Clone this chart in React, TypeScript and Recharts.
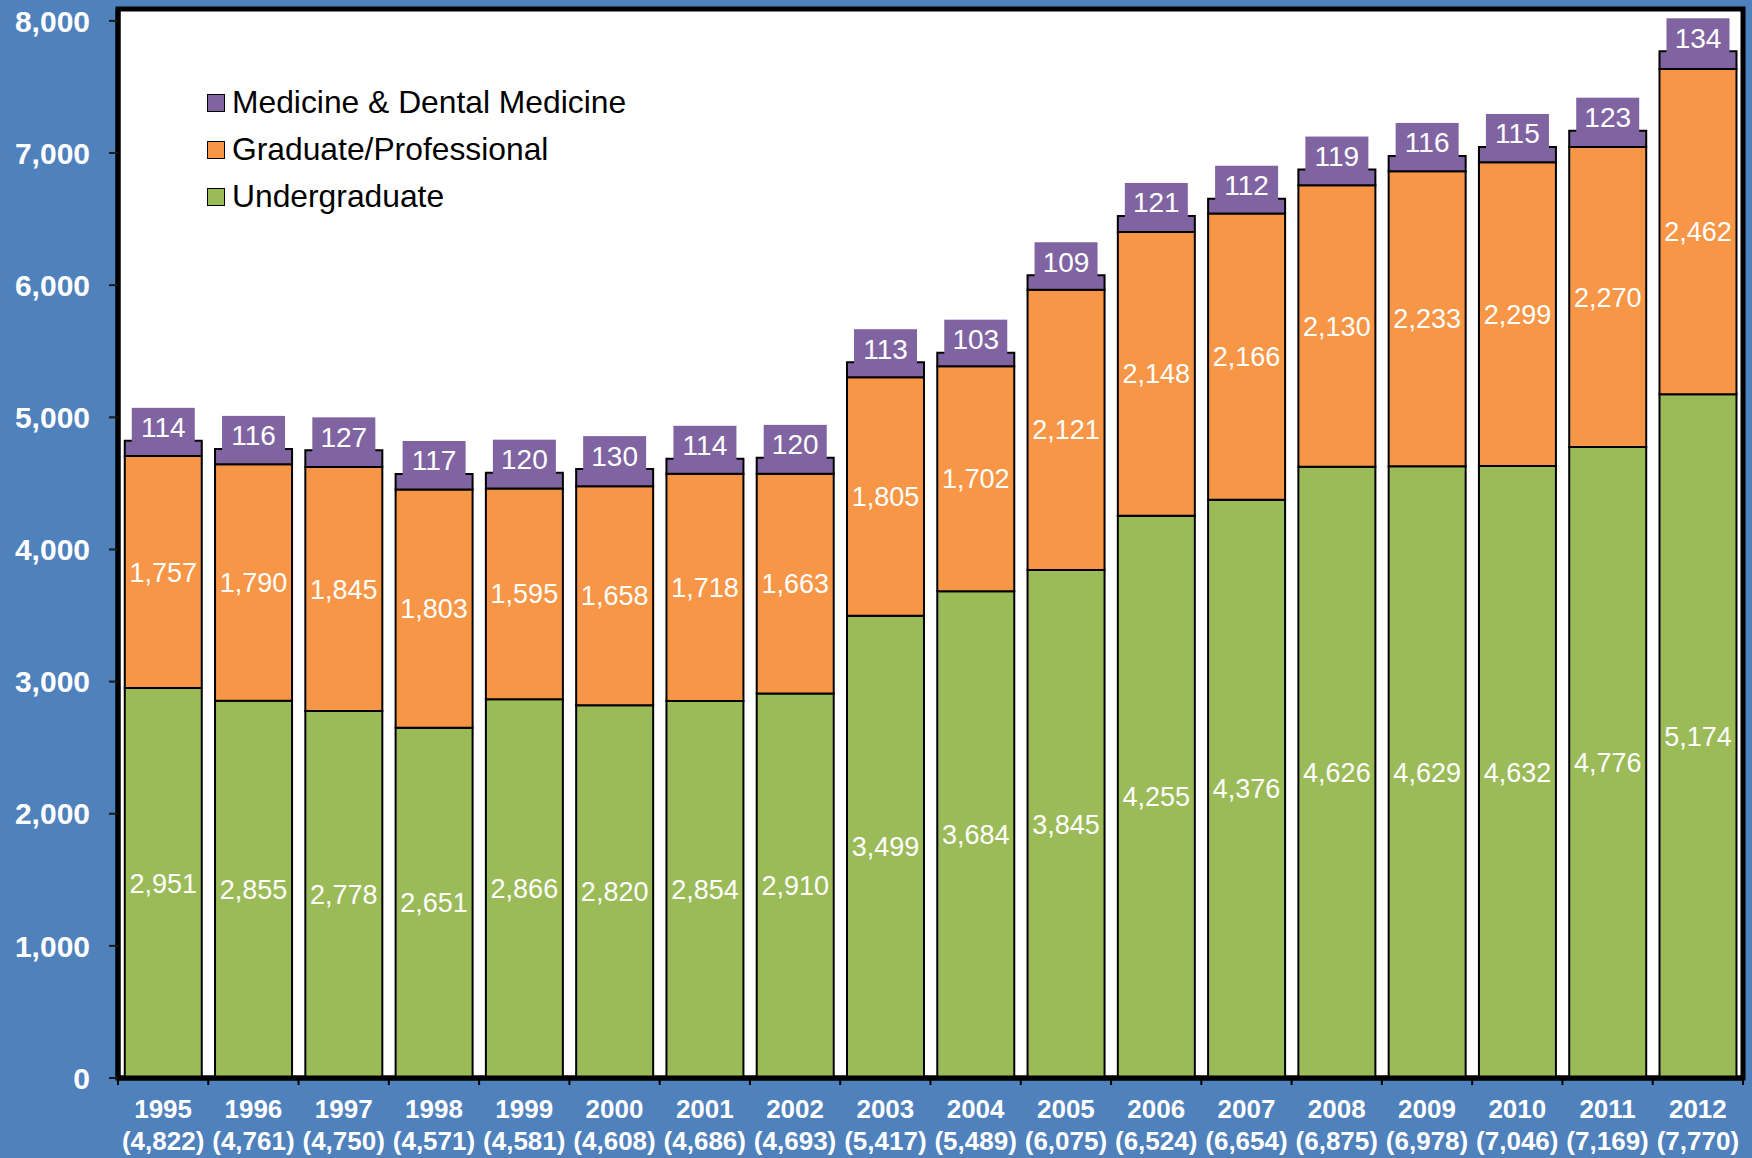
import React from "react";
import {
  BarChart,
  Bar,
  XAxis,
  YAxis,
  CartesianGrid,
  LabelList,
  Legend,
  ReferenceArea,
} from "recharts";

const years = [
  "1995", "1996", "1997", "1998", "1999", "2000", "2001", "2002", "2003",
  "2004", "2005", "2006", "2007", "2008", "2009", "2010", "2011", "2012",
];
const undergraduate = [
  2951, 2855, 2778, 2651, 2866, 2820, 2854, 2910, 3499,
  3684, 3845, 4255, 4376, 4626, 4629, 4632, 4776, 5174,
];
const graduate = [
  1757, 1790, 1845, 1803, 1595, 1658, 1718, 1663, 1805,
  1702, 2121, 2148, 2166, 2130, 2233, 2299, 2270, 2462,
];
const medicine = [
  114, 116, 127, 117, 120, 130, 114, 120, 113,
  103, 109, 121, 112, 119, 116, 115, 123, 134,
];
const totals = [
  4822, 4761, 4750, 4571, 4581, 4608, 4686, 4693, 5417,
  5489, 6075, 6524, 6654, 6875, 6978, 7046, 7169, 7770,
];
const yTicks = [0, 1000, 2000, 3000, 4000, 5000, 6000, 7000, 8000];

const data = years.map((year, i) => ({
  year,
  total: totals[i],
  undergraduate: undergraduate[i],
  graduate: graduate[i],
  medicine: medicine[i],
}));

const BG = "#4F81BD";
const GREEN = "#9BBB59";
const ORANGE = "#F79646";
const PURPLE = "#8064A2";

const W = 1752;
const H = 1158;
const MARGIN = { top: 9, right: 9, bottom: 0, left: 0 };
const Y_AXIS_W = 118;
const Y_MAX = 8090; // plot box reaches a little above the 8,000 tick
const HALF_BAND = (W - MARGIN.left - MARGIN.right - Y_AXIS_W) / years.length / 2;

const legendItems = [
  { name: "Medicine & Dental Medicine", color: PURPLE },
  { name: "Graduate/Professional", color: ORANGE },
  { name: "Undergraduate", color: GREEN },
];

const fmt = (v: any) => Number(v).toLocaleString("en-US");

function YearTick(props: any) {
  const { x, y, payload } = props;
  const i = payload.index;
  return (
    <g>
      {i === 0 && (
        <line x1={x - HALF_BAND} x2={x - HALF_BAND} y1={y} y2={y + 7} stroke="#000" strokeWidth={2} />
      )}
      <line x1={x + HALF_BAND} x2={x + HALF_BAND} y1={y} y2={y + 7} stroke="#000" strokeWidth={2} />
      <text x={x} y={y + 31} textAnchor="middle" dominantBaseline="central" fill="#fff" fontSize={26} fontWeight="bold">
        {payload.value}
      </text>
      <text x={x} y={y + 63} textAnchor="middle" dominantBaseline="central" fill="#fff" fontSize={26} fontWeight="bold">
        ({fmt(totals[i])})
      </text>
    </g>
  );
}

// purple tab sitting on top of each bar
function MedLabel(props: any) {
  const x = Number(props.x);
  const y = Number(props.y);
  const width = Number(props.width);
  const cx = x + width / 2;
  return (
    <g>
      <rect x={cx - 31.5} y={y - 33} width={63} height={35} fill={PURPLE} />
      <text x={cx} y={y - 13} textAnchor="middle" dominantBaseline="central" fill="#fff" fontSize={28}>
        {props.value}
      </text>
    </g>
  );
}

function LegendBox() {
  return (
    <div>
      {legendItems.map((it) => (
        <div key={it.name} style={{ display: "flex", alignItems: "center", height: 47 }}>
          <span
            style={{
              display: "inline-block",
              width: 16,
              height: 16,
              background: it.color,
              border: "1.5px solid #000",
              marginRight: 7,
            }}
          />
          <span style={{ fontSize: 31.8, color: "#000", whiteSpace: "nowrap" }}>{it.name}</span>
        </div>
      ))}
    </div>
  );
}

export default function App() {
  return (
    <div
      style={{
        position: "absolute",
        left: 0,
        top: 0,
        width: W,
        height: H,
        background: BG,
        fontFamily: "'Liberation Sans', Arial, sans-serif",
      }}
    >
      <BarChart width={W} height={H} data={data} margin={MARGIN} barCategoryGap="7.5%" barGap={0}>
        <CartesianGrid fill="#fff" horizontal={false} vertical={false} />
        <XAxis
          dataKey="year"
          height={80}
          interval={0}
          tickSize={0}
          tickMargin={0}
          tickLine={false}
          axisLine={{ stroke: "#000", strokeWidth: 5 }}
          tick={<YearTick />}
        />
        <YAxis
          type="number"
          domain={[0, Y_MAX]}
          ticks={yTicks}
          width={Y_AXIS_W}
          tickFormatter={fmt}
          tickSize={9}
          tickMargin={19}
          tick={{ fill: "#fff", fontSize: 30, fontWeight: "bold" }}
          tickLine={{ stroke: "#1a1a1a", strokeWidth: 2 }}
          axisLine={{ stroke: "#000", strokeWidth: 5 }}
        />
        <Legend
          layout="vertical"
          align="center"
          verticalAlign="middle"
          wrapperStyle={{ top: 79, left: 207, width: "auto" }}
          content={<LegendBox />}
        />
        <Bar dataKey="undergraduate" name="Undergraduate" stackId="a" fill={GREEN} stroke="#000" strokeWidth={2} isAnimationActive={false}>
          <LabelList dataKey="undergraduate" position="center" formatter={fmt} fill="#fff" fontSize={27} />
        </Bar>
        <Bar dataKey="graduate" name="Graduate/Professional" stackId="a" fill={ORANGE} stroke="#000" strokeWidth={2} isAnimationActive={false}>
          <LabelList dataKey="graduate" position="center" formatter={fmt} fill="#fff" fontSize={27} />
        </Bar>
        <Bar dataKey="medicine" name="Medicine & Dental Medicine" stackId="a" fill={PURPLE} stroke="#000" strokeWidth={2} isAnimationActive={false}>
          <LabelList dataKey="medicine" content={<MedLabel />} />
        </Bar>
        <ReferenceArea y1={0} y2={Y_MAX} fill="none" stroke="#000" strokeWidth={5} ifOverflow="visible" />
      </BarChart>
    </div>
  );
}
